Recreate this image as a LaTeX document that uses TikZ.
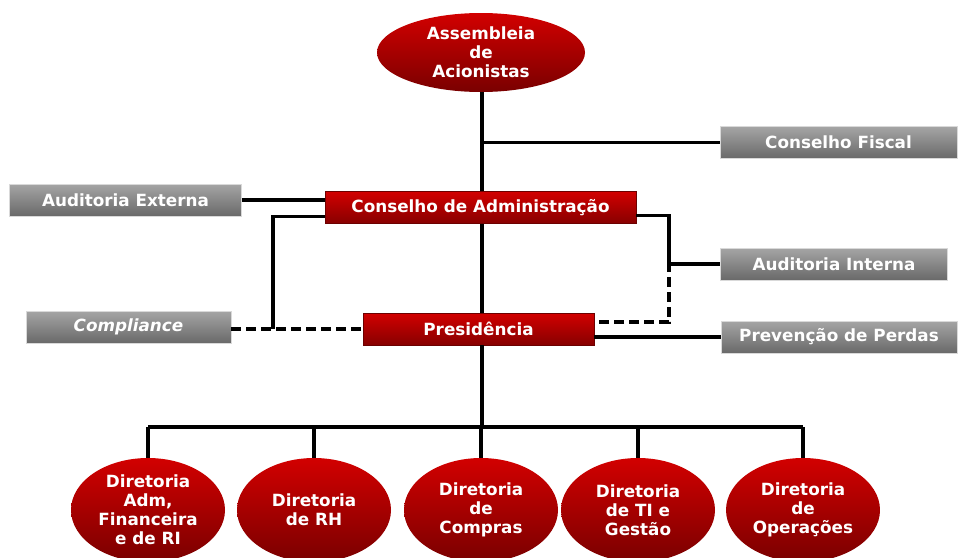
\documentclass[tikz,border=0pt]{standalone}
\usepackage{fontspec}
\setmainfont{DejaVu Sans}
\usetikzlibrary{shapes.geometric,calc}
\definecolor{rtop}{RGB}{210,0,0}
\definecolor{rbot}{RGB}{135,0,0}
\definecolor{gtop}{RGB}{165,165,165}
\definecolor{gbot}{RGB}{105,105,105}
\tikzset{
  base/.style={font=\fontsize{16.8}{19}\selectfont\bfseries, text=white, align=center, inner sep=0pt},
  redbox/.style={base, rectangle, top color=rtop, bottom color=rbot, draw=rbot!80!black, line width=0.4pt, minimum height=32pt},
  greybox/.style={base, rectangle, top color=gtop, bottom color=gbot, draw=white!85!black, line width=0.6pt, minimum height=32pt},
  oval/.style={base, ellipse, top color=rtop, bottom color=rbot!90!black, minimum width=154pt, minimum height=104pt},
  conn/.style={line width=3.3pt, black},
  dconn/.style={conn, dash pattern=on 10pt off 5pt}
}
\begin{document}
\begin{tikzpicture}[x=1pt,y=-1pt]
\useasboundingbox (0,0) rectangle (958,557);
\clip (0,0) rectangle (958,557);
\fill[white] (0,0) rectangle (958,557);
% nodes
\node[oval, minimum width=208pt, minimum height=79pt] (as) at (481,52.5) {Assembleia\\de\\Acionistas};
\node[redbox, minimum width=311pt] (ca) at (480.5,207.5) {Conselho de Administração};
\node[redbox, minimum width=231pt] (pr) at (478.5,329) {Presidência};
\node[greybox, minimum width=237pt] (cf) at (838.5,142.5) {Conselho Fiscal};
\node[greybox, minimum width=232pt] (ae) at (125.5,200) {Auditoria Externa};
\node[greybox, minimum width=227pt] (ai) at (834,264) {Auditoria Interna};
\node[greybox, minimum width=236pt] (pp) at (839,337) {Prevenção de Perdas};
\node[greybox, minimum width=205pt] (co) at (128.5,327) {\itshape Compliance};
\node[oval] (d1) at (148,510) {Diretoria\\Adm,\\Financeira\\e de RI};
\node[oval] (d2) at (314,510) {Diretoria\\de RH};
\node[oval] (d3) at (481,510) {Diretoria\\de\\Compras};
\node[oval] (d4) at (638,510) {Diretoria\\de TI e\\Gestão};
\node[oval] (d5) at (803,510) {Diretoria\\de\\Operações};
% coordinates
\coordinate (bus) at (482,427);
\coordinate (lc) at (273,329);
\coordinate (rc) at (669,262);
\coordinate (rd) at (669,322);
% connectors
\draw[conn] (as.south -| bus) -- (ca.north -| bus);
\draw[conn] (ca.south -| bus) -- (pr.north -| bus);
\draw[conn] (pr.south -| bus) -- (bus);
\draw[conn] (bus |- cf.west) -- (cf.west);
\draw[conn] (ae.east) -- (ae.east -| ca.west);
\draw[conn] ($(ca.south west)+(0,-7)$) -| (lc);
\draw[dconn] (co.east |- pr.west) -- (pr.west);
\draw[conn] ($(ca.south east)+(0,-8)$) -| (rc);
\draw[dconn] (rc) -- (rd) -- (rd -| pr.east);
\draw[conn] (rc |- ai.west) -- (ai.west);
\draw[conn] (pr.east |- pp.west) -- (pp.west);
\draw[conn] (d1.north |- bus) -- (d5.north |- bus);
\foreach \d in {d1,d2,d3,d4,d5} \draw[conn] (\d.north) -- (\d.north |- bus);
\end{tikzpicture}
\end{document}
